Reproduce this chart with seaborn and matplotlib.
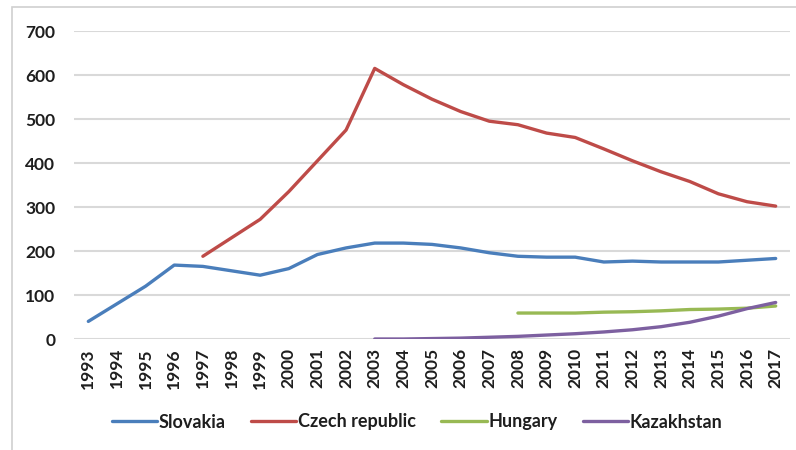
import numpy as np
import pandas as pd
import matplotlib
matplotlib.use("Agg")
import matplotlib.pyplot as plt
import seaborn as sns
from matplotlib.patches import Rectangle

years = list(range(1993, 2018))
slovakia = [40, 80, 120, 168, 165, 155, 145, 160, 192, 207, 218, 218, 215, 207, 196,
            188, 186, 186, 175, 177, 175, 175, 175, 179, 183]
czech = [None, None, None, None, 188, 230, 272, 335, 405, 475, 615, 578, 545, 517, 495,
         487, 468, 458, 432, 405, 380, 358, 330, 312, 302]
hungary = [None] * 15 + [59, 59, 59, 61, 62, 64, 67, 68, 70, 75]
kazakhstan = [None] * 10 + [0, 0, 1, 2, 4, 6, 9, 12, 16, 21, 28, 38, 52, 69, 83]

series_names = ["Slovakia", "Czech republic", "Hungary", "Kazakhstan"]
series_vals = [slovakia, czech, hungary, kazakhstan]
colors = ["#4a7ebb", "#be4b48", "#98b954", "#7d60a0"]
y_ticks = [0, 100, 200, 300, 400, 500, 600, 700]

rows = []
for name, vals in zip(series_names, series_vals):
    for y, v in zip(years, vals):
        if v is not None:
            rows.append({"Year": y, "Value": v, "Country": name})
df = pd.DataFrame(rows)

sns.set_theme(style="white")
plt.rcParams['font.family'] = ['Lato', 'DejaVu Sans']

fig = plt.figure(figsize=(7.96, 4.5), dpi=100)
ax = fig.add_axes([74 / 796, (450 - 339) / 450, (790 - 74) / 796, (339 - 31) / 450])

sns.lineplot(data=df, x="Year", y="Value", hue="Country", hue_order=series_names,
             palette=colors, linewidth=2.4, ax=ax, legend=True)

ax.set_xlim(1992.5, 2017.5)
ax.set_ylim(0, 700)
ax.set_yticks(y_ticks)
ax.set_yticklabels([str(t) for t in y_ticks], fontsize=12.5, fontweight="bold", color="#1e1e1e")
ax.set_xticks(years)
ax.set_xticklabels([str(y) for y in years], rotation=90, fontsize=12.5,
                   fontweight="bold", color="#1e1e1e")
ax.tick_params(axis="y", length=0, pad=13.5)
ax.tick_params(axis="x", length=0, pad=6.5)
ax.set_xlabel("")
ax.set_ylabel("")
for s in ax.spines.values():
    s.set_visible(False)
ax.yaxis.grid(True, color="#d9d9d9", linewidth=1.5)
ax.set_axisbelow(True)

handles, labels = ax.get_legend_handles_labels()
ax.get_legend().remove()
leg = fig.legend(handles, labels, loc="center left", bbox_to_anchor=(112 / 796, (450 - 422) / 450),
                 ncol=4, frameon=False, handlelength=2.5, handletextpad=0.1,
                 columnspacing=1.4, borderpad=0, borderaxespad=0,
                 prop={"size": 13, "weight": "bold"})
for line in leg.get_lines():
    line.set_linewidth(2.4)
for t in leg.get_texts():
    t.set_color("#1e1e1e")

fig.patches.append(Rectangle((12 / 796, -0.05), 1.1, (450 - 7) / 450 + 0.05,
                             transform=fig.transFigure, fill=False,
                             edgecolor="#d0d0d0", linewidth=1.2))

fig.savefig("out.png", dpi=100)
